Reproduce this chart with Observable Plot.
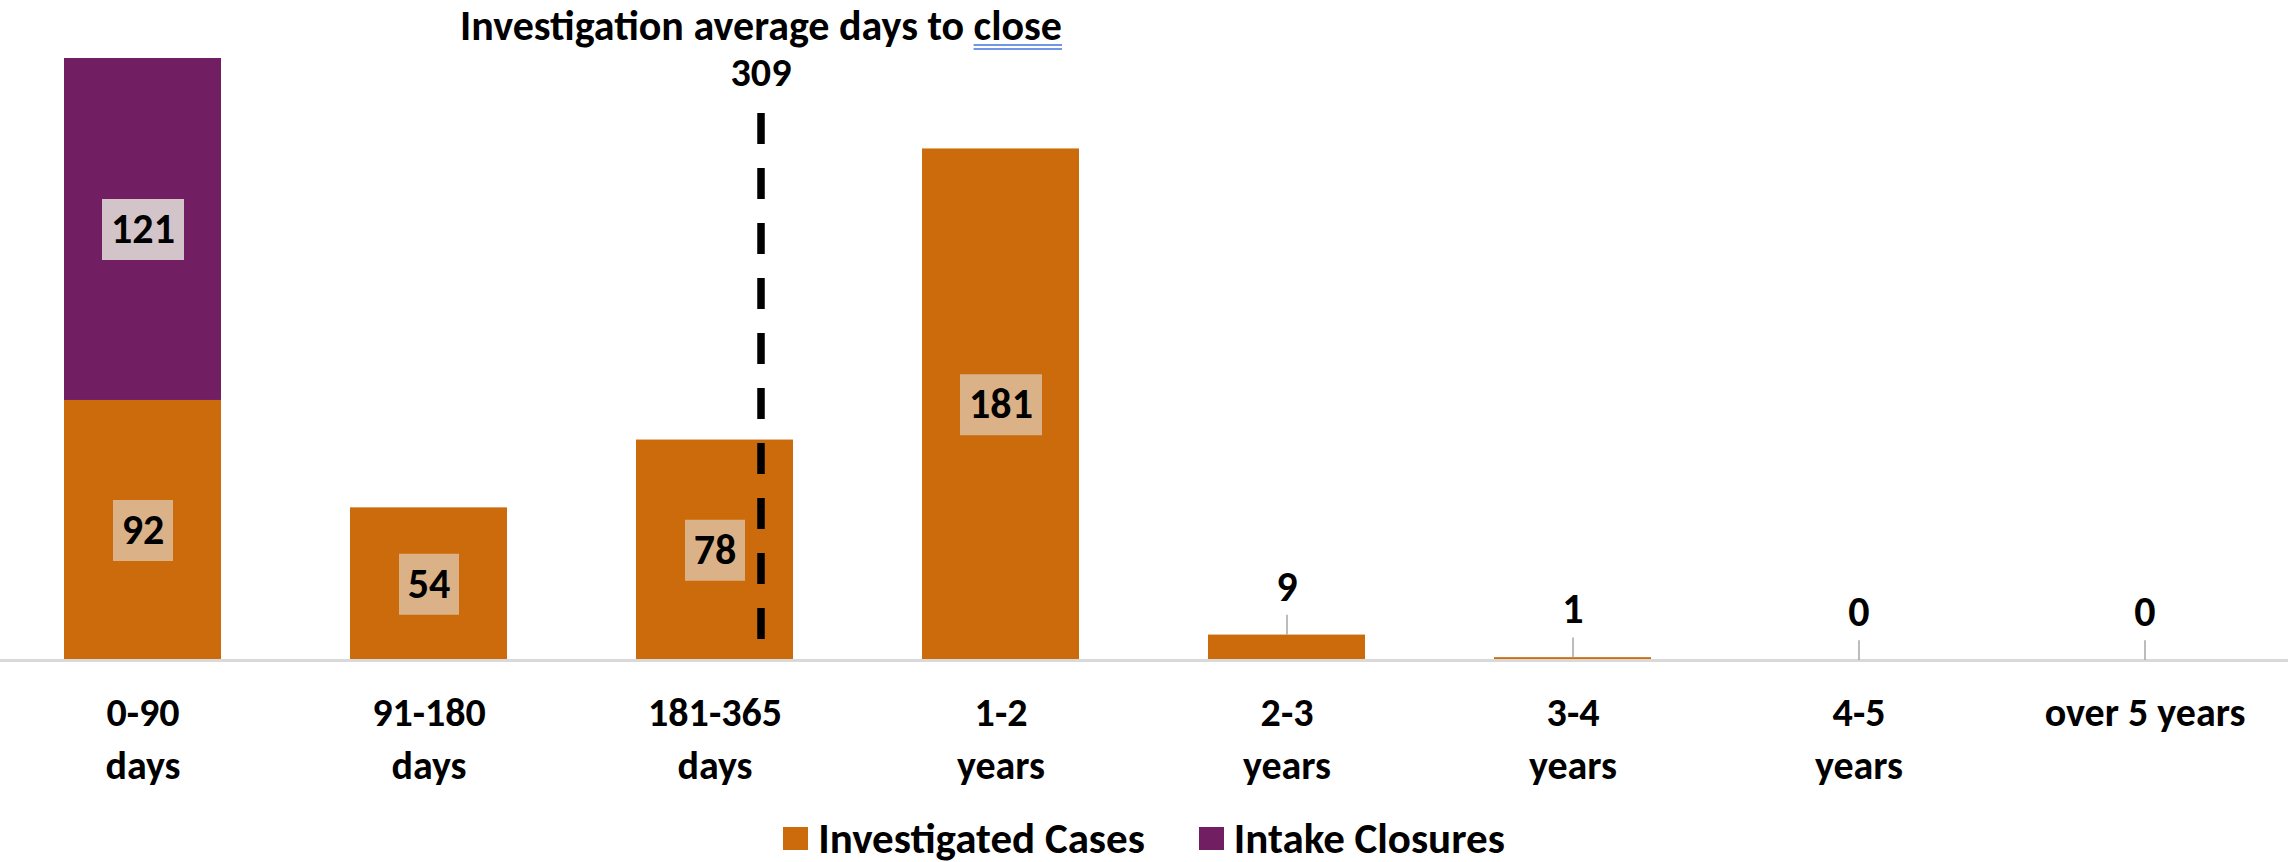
<!DOCTYPE html>
<html>
<head>
<meta charset="utf-8">
<script src="https://cdn.jsdelivr.net/npm/d3@7"></script>
<script src="https://cdn.jsdelivr.net/npm/@observablehq/plot@0.6"></script>
<style>
  html, body { margin: 0; padding: 0; background: #fff; }
  body { width: 2288px; height: 862px; overflow: hidden; font-family: Carlito, Calibri, Lato, "Open Sans", sans-serif; font-weight: 700; }
  #chart svg { display: block; }
  #legend { display: flex; justify-content: center; align-items: center; height: 47px; font-size: 43px; line-height: 47px; color: #000; }
  #legend .item { display: flex; align-items: center; margin: 0 27px; }
  #legend .sw { width: 25px; height: 23px; margin-right: 10px; }
</style>
</head>
<body>
<div id="chart"></div>
<div id="legend"></div>
<script>
const categories = ["0-90 days", "91-180 days", "181-365 days", "1-2 years", "2-3 years", "3-4 years", "4-5 years", "over 5 years"];
const tickLabels = ["0-90\ndays", "91-180\ndays", "181-365\ndays", "1-2\nyears", "2-3\nyears", "3-4\nyears", "4-5\nyears", "over 5 years"];
const investigated = [92, 54, 78, 181, 9, 1, 0, 0];
const intake = [121, 0, 0, 0, 0, 0, 0, 0];
const series = ["Investigated Cases", "Intake Closures"];
const colors = ["#CC6B0B", "#711F62"];
const labelBg = ["#DBB287", "#D3C4C9"];
const avgDays = 309;
const avgCategory = "181-365 days";
const avgTitle = "Investigation average days to close";

// long table for the stacked bars
const rows = [];
categories.forEach((c, i) => {
  rows.push({cat: c, series: series[0], value: investigated[i]});
  rows.push({cat: c, series: series[1], value: intake[i]});
});

// label table: investigated labels for every category, intake labels where present
const labels = [];
categories.forEach((c, i) => {
  labels.push({cat: c, series: series[0], value: investigated[i], mid: investigated[i] / 2});
  if (intake[i] > 0) labels.push({cat: c, series: series[1], value: intake[i], mid: investigated[i] + intake[i] / 2});
});
const inside = labels.filter(d => d.value >= 20);
const outside = labels.filter(d => d.value < 20);

const boxSymbol = (w, h) => ({draw(ctx) { ctx.rect(-w / 2, -h / 2, w, h); }});

const boxMarks = [];
series.forEach((s, k) => {
  [2, 3].forEach(n => {
    const sub = inside.filter(d => d.series === s && String(d.value).length === n);
    if (sub.length) boxMarks.push(Plot.dot(sub, {x: "cat", y: "mid", symbol: boxSymbol(16 + 22 * n, 61), r: 10, fill: labelBg[k]}));
  });
});

const chart = Plot.plot({
  width: 2288,
  height: 815,
  marginLeft: 0,
  marginRight: 0,
  marginTop: 58,
  marginBottom: 155,
  style: "font-family: Carlito, Calibri, Lato, 'Open Sans', sans-serif; font-weight: 700; background: #fff; color: #000;",
  x: {domain: categories, paddingInner: 0.45, paddingOuter: 0.225, axis: null},
  y: {domain: [0, 213], axis: null},
  color: {domain: series, range: colors},
  marks: [
    Plot.barY(rows, {x: "cat", y: "value", fill: "series"}),
    Plot.ruleY([0], {stroke: "#D9D9D9", strokeWidth: 3}),
    ...boxMarks,
    Plot.text(inside, {x: "cat", y: "mid", text: d => String(d.value), fontSize: 42, fill: "#000"}),
    Plot.ruleX(outside, {x: "cat", y1: "value", y2: d => d.value + 7, stroke: "#A6A6A6", strokeWidth: 1.5}),
    Plot.text(outside, {x: "cat", y: "value", dy: -48, text: d => String(d.value), fontSize: 42, fill: "#000"}),
    Plot.ruleX([avgDays], {x: () => avgCategory, dx: 46, insetTop: 55, stroke: "#000", strokeWidth: 7.5, strokeDasharray: "31,24"}),
    Plot.text([avgTitle], {x: () => avgCategory, frameAnchor: "top", lineAnchor: "middle", dx: 46, dy: -32, text: d => d, fontSize: 42, fill: "#000"}),
    Plot.text([avgDays], {x: () => avgCategory, frameAnchor: "top", lineAnchor: "middle", dx: 46, dy: 15, text: d => String(d), fontSize: 40, fill: "#000"}),
    Plot.text(categories, {x: d => d, text: d => tickLabels[categories.indexOf(d)], frameAnchor: "bottom", lineAnchor: "top", dy: 28, fontSize: 40, lineHeight: 1.33, fill: "#000"})
  ]
});
document.getElementById("chart").appendChild(chart);

// Word-style double underline under "close"
const t = [...chart.querySelectorAll("text")].find(e => e.textContent === avgTitle);
if (t && t.getStartPositionOfChar) {
  const start = avgTitle.indexOf("close");
  const s0 = t.getStartPositionOfChar(start);
  const e0 = t.getEndPositionOfChar(avgTitle.length - 1);
  const ns = "http://www.w3.org/2000/svg";
  const ctm = t.getCTM();
  [5, 9].forEach(off => {
    const l = document.createElementNS(ns, "line");
    const p1 = s0.matrixTransform(ctm), p2 = e0.matrixTransform(ctm);
    l.setAttribute("x1", p1.x); l.setAttribute("x2", p2.x);
    l.setAttribute("y1", p1.y + off); l.setAttribute("y2", p2.y + off);
    l.setAttribute("stroke", "#7096E6"); l.setAttribute("stroke-width", 2);
    chart.appendChild(l);
  });
}

const legend = document.getElementById("legend");
series.forEach((s, k) => {
  const item = document.createElement("div");
  item.className = "item";
  const sw = document.createElement("span");
  sw.className = "sw";
  sw.style.background = colors[k];
  const lab = document.createElement("span");
  lab.textContent = s;
  item.appendChild(sw); item.appendChild(lab);
  legend.appendChild(item);
});
</script>
</body>
</html>
